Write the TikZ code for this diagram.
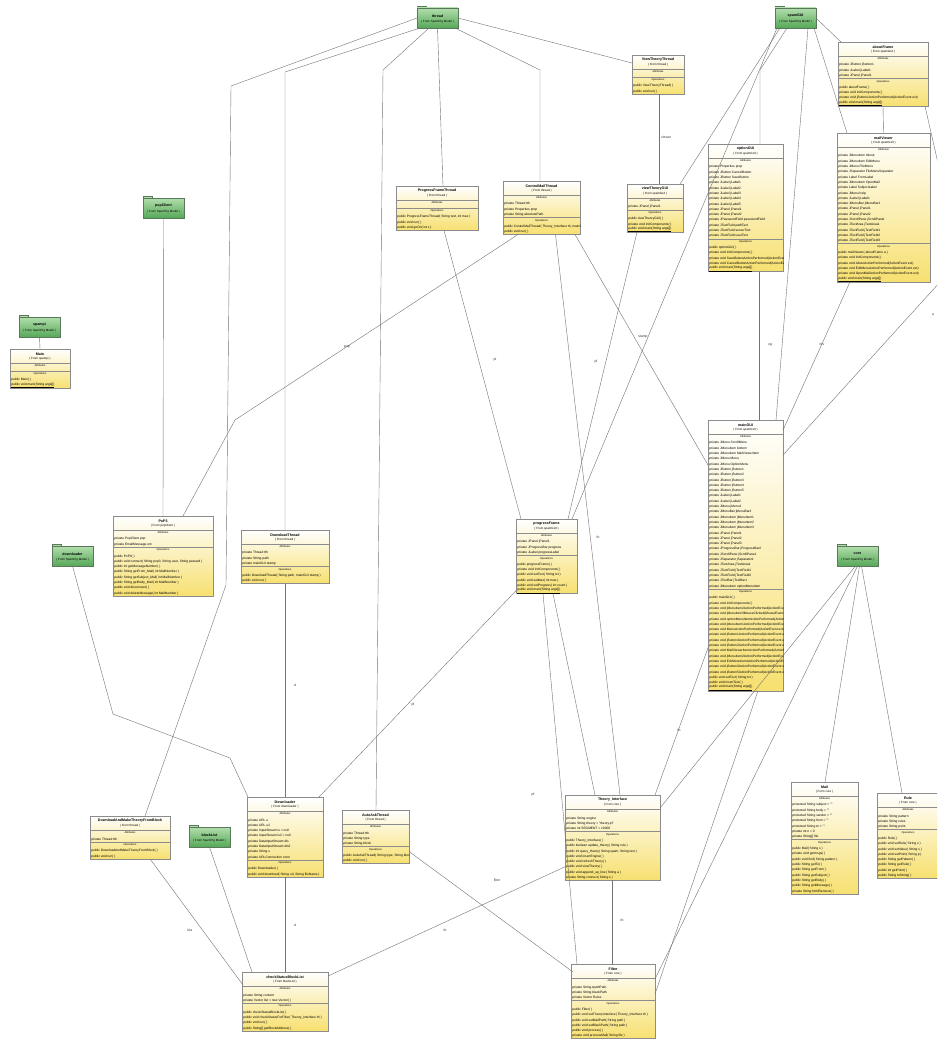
\documentclass[tikz,border=0pt]{standalone}
\usepackage{fontspec}
\setmainfont{Liberation Sans}
\usetikzlibrary{calc}
\definecolor{clsyel}{RGB}{247,224,112}
\definecolor{clsline}{RGB}{140,140,140}
\definecolor{pkgtop}{RGB}{178,222,172}
\definecolor{pkgbot}{RGB}{86,168,88}
\definecolor{pkgline}{RGB}{90,120,90}
\definecolor{conncol}{RGB}{115,115,115}
\tikzset{
  clsbox/.style={draw=clsline, line width=0.5pt, top color=white, bottom color=clsyel, inner sep=0pt, outer sep=0pt},
  clstitle/.style={font=\fontsize{3.6}{4}\selectfont\bfseries, inner sep=0pt},
  clsfrom/.style={font=\fontsize{3}{3.5}\selectfont, inner sep=0pt},
  clshdr/.style={font=\fontsize{2.6}{3}\selectfont, inner sep=0pt},
  clstxt/.style={anchor=west, font=\fontsize{3.25}{3.6}\selectfont, inner sep=0pt},
  clssep/.style={draw=clsline, line width=0.4pt},
  pkgbox/.style={draw=pkgline, line width=0.5pt, top color=pkgtop, bottom color=pkgbot, inner sep=0pt, outer sep=0pt},
  pkgname/.style={font=\fontsize{3.6}{4}\selectfont\bfseries, inner sep=0pt},
  pkgfrom/.style={font=\fontsize{3}{3.5}\selectfont, inner sep=0pt},
  conn/.style={draw=conncol, line width=0.4pt},
  lbl/.style={font=\fontsize{3.4}{4}\selectfont, inner sep=0pt, text=black!80}
}
\newcount\cntA \newcount\cntO
\newcommand\cls[8]{%
  \global\cntA=0 \global\cntO=0
  \if\relax\detokenize{#7}\relax\else\foreach \itm in {#7}{\global\advance\cntA by 1}\fi
  \foreach \itm in {#8}{\global\advance\cntO by 1}%
  \pgfmathsetmacro\hA{\the\cntA==0 ? 8 : 6.5+\the\cntA*5.3}%
  \pgfmathsetmacro\hO{6.5+\the\cntO*5.3}%
  \pgfmathsetmacro\yA{#3+14}%
  \pgfmathsetmacro\yO{\yA+\hA}%
  \pgfmathsetmacro\hT{14+\hA+\hO}%
  \node[clsbox, minimum width=#4pt, minimum height=\hT pt, anchor=north west] (#1) at (#2,#3) {};
  \begin{scope}
    \clip (#2,#3) rectangle ++(#4,\hT);
    \node[clstitle] at (#2+#4/2,#3+5) {#5};
    \node[clsfrom] at (#2+#4/2,#3+10) {( From #6 )};
    \draw[clssep] (#2,\yA) -- ++(#4,0);
    \node[clshdr] at (#2+#4/2,\yA+3) {Attributes};
    \if\relax\detokenize{#7}\relax\else
      \foreach \itm [count=\ii] in {#7}{\node[clstxt] at (#2+1.2,\yA+6.5+\ii*5.3-2.65) {\itm};}\fi
    \draw[clssep] (#2,\yO) -- ++(#4,0);
    \node[clshdr] at (#2+#4/2,\yO+3) {Operations};
    \foreach \itm [count=\ii] in {#8}{\node[clstxt] at (#2+1.2,\yO+6.5+\ii*5.3-2.65) {\itm};}
  \end{scope}
}
\newcommand\pkg[4]{%
  \draw[draw=pkgline, fill=pkgtop, line width=0.4pt] (#2,#3-2) rectangle ++(9,2);
  \node[pkgbox, anchor=north west, minimum width=41pt, minimum height=20pt] (#1) at (#2,#3) {};
  \node[pkgname] at (#2+20.5,#3+8) {#4};
  \node[pkgfrom] at (#2+20.5,#3+14) {( From SpamPig Model )};
}
\begin{document}
\begin{tikzpicture}[x=1pt,y=-1pt]
\useasboundingbox (0,0) rectangle (937,1041);
\fill[white] (0,0) rectangle (937,1041);
\clip (0,0) rectangle (937,1041);

% ---------- packages
\pkg{thread}{417}{8}{thread}
\pkg{spamGUI}{775}{8}{spamGUI}
\pkg{popClient}{143}{198}{popClient}
\pkg{spampi}{19}{317}{spampi}
\pkg{downloader}{52}{546}{downloader}
\pkg{core}{837}{546}{core}
\pkg{blackList}{189}{827}{blackList}

% ---------- classes
\cls{mainc}{10}{349}{60}{Main}{spampi}{}{{public Main( )},{\underline{public void main(String args[])}}}
\cls{vtt}{632}{55}{52}{ViewTheoryThread}{thread}{}{{public ViewTheoryThread( )},{public void run( )}}
\cls{about}{838}{42}{90}{aboutFrame}{spamGUI}{{private JButton jButton1},{private JLabel jLabel1},{private JPanel jPanel1}}{{public aboutFrame( )},{private void initComponents( )},{private void jButton1ActionPerformed(ActionEvent evt)},{\underline{public void main(String args[])}}}
\cls{mailv}{837}{133}{93}{mailViewer}{spamGUI}{{private JMenuItem About},{private JMenuItem EditMenu},{private JMenu FileMenu},{private JSeparator FileMenuSeparator},{private Label FromLabel},{private JMenuItem OpenMail},{private Label SubjectLabel},{private JMenu help},{private JLabel jLabel1},{private JMenuBar jMenuBar1},{private JPanel jPanel1},{private JPanel jPanel2},{private JScrollPane jScrollPanel},{private JTextArea jTextArea1},{private JTextField jTextField1},{private JTextField jTextField2},{private JTextField jTextField3}}{{public mailViewer( aboutFrame a )},{private void initComponents( )},{private void AboutActionPerformed(ActionEvent evt)},{private void EditMenuActionPerformed(ActionEvent evt)},{private void OpenMailActionPerformed(ActionEvent evt)},{\underline{public void main(String args[])}}}
\cls{optgui}{708}{144}{75}{optionGUI}{spamGUI}{{private Properties prop},{private JButton CancelButton},{private JButton SaveButton},{private JLabel jLabel1},{private JLabel jLabel2},{private JLabel jLabel3},{private JLabel jLabel4},{private JLabel jLabel5},{private JPanel jPanel1},{private JPanel jPanel2},{private JPasswordField passwordField},{private JTextField pathText},{private JTextField serverText},{private JTextField userText}}{{public optionGUI( )},{private void initComponents( )},{private void SaveButtonActionPerformed(ActionEvent evt)},{private void CancelButtonActionPerformed(ActionEvent evt)},{\underline{public void main(String args[])}}}
\cls{pft}{396}{186}{82}{ProgressFrameThread}{thread}{}{{public ProgressFrameThread( String text, int max )},{public void run( )},{public void goOn( int x )}}
\cls{cmt}{503}{181}{77}{ControlMailThread}{thread}{{private Thread tth},{private Properties prop},{private String absolutePath}}{{public ControlMailThread( Theory\_Interface th, mainGUI stamp )},{public void run( )}}
\cls{vtgui}{627}{184}{56}{viewTheoryGUI}{spamGUI}{{private JPanel jPanel1}}{{public viewTheoryGUI( )},{private void initComponents( )},{\underline{public void main(String args[])}}}
\cls{maingui}{708}{420}{75}{mainGUI}{spamGUI}{{private JMenu ScrollMenu},{private JMenuItem bottom},{private JMenuItem MailViewerItem},{private JMenu Menu},{private JMenu OptionMenu},{private JButton jButton1},{private JButton jButton2},{private JButton jButton3},{private JButton jButton4},{private JButton jButton5},{private JLabel jLabel1},{private JLabel jLabel2},{private JMenu jMenu1},{private JMenuBar jMenuBar2},{private JMenuItem jMenuItem1},{private JMenuItem jMenuItem2},{private JMenuItem jMenuItem3},{private JPanel jPanel1},{private JPanel jPanel2},{private JPanel jPanel3},{private JProgressBar jProgressBar2},{private JScrollPane jScrollPane1},{private JSeparator jSeparator1},{private JTextArea jTextArea1},{private JTextField jTextField1},{private JTextField jTextField2},{private JToolBar jToolBar1},{private JMenuItem optionMenuItem}}{{public mainGUI( )},{private void initComponents( )},{private void jMenuItem2ActionPerformed(ActionEvent evt)},{private void jMenuItem3MouseClicked(MouseEvent evt)},{private void optionMenuItemActionPerformed(ActionEvent evt)},{private void jMenuItem1ActionPerformed(ActionEvent evt)},{private void MenuActionPerformed(ActionEvent evt)},{private void jButton1ActionPerformed(ActionEvent evt)},{private void jButton4ActionPerformed(ActionEvent evt)},{private void jButton2ActionPerformed(ActionEvent evt)},{private void MailViewerItemActionPerformed(ActionEvent evt)},{private void jMenuItem2ActionPerformed(ActionEvent evt)},{private void ExitMenuItemActionPerformed(ActionEvent evt)},{private void jButton3ActionPerformed(ActionEvent evt)},{private void jButton5ActionPerformed(ActionEvent evt)},{public void setText( String txt )},{public void insertText( )},{\underline{public void main(String args[])}}}
\cls{pop3}{113}{516}{100}{PoP3}{popClient}{{private PopClient pop},{private EmailMessage em}}{{public PoP3( )},{public void connect( String pop3, String user, String passwd )},{public int getMessageNumber( )},{public String getFrom\_Mail( int MailNumber )},{public String getSubject\_Mail( int MailNumber )},{public String getBody\_Mail( int MailNumber )},{public void disconnect( )},{public void deleteMessage( int MailNumber )}}
\cls{dlthread}{241}{530}{88}{DownloadThread}{thread}{{private Thread tth},{private String path},{private mainGUI stamp}}{{public DownloadThread( String path, mainGUI stamp )},{public void run( )}}
\cls{pframe}{516}{519}{61}{progressFrame}{spamGUI}{{private JPanel jPanel1},{private JProgressBar progress},{private JLabel progressLabel}}{{public progressFrame( )},{private void initComponents( )},{public void setText( String txt )},{public void setMax( int max )},{public void setProgress( int count )},{\underline{public void main(String args[])}}}
\cls{dl}{247}{797}{76}{Downloader}{downloader}{{private URL u},{private URL u2},{private InputStream is = null},{private InputStream is2 = null},{private DataInputStream dis},{private DataInputStream dis2},{private String s},{private URLConnection conn}}{{public Downloader( )},{public void download( String url, String fileName )}}
\cls{autoask}{342}{810}{67}{AutoAskThread}{thread}{{private Thread tth},{private String type},{private String block}}{{public AutoAskThread( String type, String block )},{public void run( )}}
\cls{damtfb}{90}{816}{80}{DownloadAndMakeTheoryFromBlock}{thread}{{private Thread tth}}{{public DownloadAndMakeTheoryFromBlock( )},{public void run( )}}
\cls{ti}{565}{795}{95}{Theory\_Interface}{core}{{private String engine},{private String theory = "theory.pl"},{private int SEGMENT = 10000}}{{public Theory\_Interface( )},{public boolean update\_theory( String rule )},{public int query\_theory( String spam, String text )},{public void insertEngine( )},{public void refreshTheory( )},{public void viewTheory( )},{public void append\_up\_line( String a )},{private String connect( String s )}}
\cls{mail}{791}{782}{67}{Mail}{core}{{protected String subject = ""},{protected String body = ""},{protected String sender = ""},{protected String from = ""},{protected String to = ""},{private int n = 0},{private String[] file}}{{public Mail( String s )},{private void getmsgs( )},{public void find( String pattern )},{public String getTo( )},{public String getFrom( )},{public String getSubject( )},{public String getBody( )},{public String getMessage( )},{private String htmlRemove( )}}
\cls{rule}{877}{793}{62}{Rule}{core}{{private String pattern},{private String rules},{private String point}}{{public Rule( )},{public void setRule( String s )},{public void setValue( String s )},{public void setPoint( String p )},{public String getPattern( )},{public String getRule( )},{public int getPoint( )},{public String toString( )}}
\cls{csbl}{242}{972}{86}{checkStatusBlockList}{blackList}{{private String content},{private Vector list = new Vector( )}}{{public checkStatusBlockList( )},{public void checkStatusForFilter( Theory\_Interface th )},{public void run( )},{public String[] getBlockAddress( )}}
\cls{filter}{571}{964}{84}{Filter}{core}{{private String tpathPath},{private String blackPath},{private Vector Rules}}{{public Filter( )},{public void setTheoryInterface( Theory\_Interface th )},{public void setMailPath( String path )},{public void setBlackPath( String path )},{public void process( )},{private void processMail( String file )}}

% ---------- connectors: packages to classes
\draw[conn] (spampi.south) -- (mainc.north);
\draw[conn] (popClient.south) -- ($(pop3.north west)+(50,0)$);
\draw[conn] (thread.west) -- (231,86) -- (226,585) -- ($(damtfb.north west)+(55,0)$);
\draw[conn] ($(thread.south west)+(3,0)$) -- (285,72) -- ($(dlthread.north west)+(44,0)$);
\draw[conn] ($(thread.south west)+(12,0)$) -- (383,70) -- ($(autoask.north west)+(34,0)$);
\draw[conn] (thread.south) -- ($(pft.north west)+(47,0)$);
\draw[conn] ($(thread.south east)+(-3,0)$) -- (540,70) -- ($(cmt.north west)+(37,0)$);
\draw[conn] (thread.east) -- ($(vtt.north west)+(0,8)$);
\draw[conn] ($(spamGUI.north east)+(0,10)$) -- ($(about.north west)+(3,0)$);
\draw[conn] ($(spamGUI.south east)+(-2,0)$) -- ($(mailv.north west)+(10,0)$);
\draw[conn] ($(spamGUI.south west)+(12,0)$) -- (760,70) -- ($(optgui.north west)+(52,0)$);
\draw[conn] ($(spamGUI.south west)+(5,0)$) -- ($(vtgui.north east)+(-3,0)$);
\draw[conn] ($(spamGUI.south west)+(2,0)$) -- ($(pframe.north east)+(-5,0)$);
\draw[conn] ($(spamGUI.south east)+(-8,0)$) -- ($(maingui.north east)+(-7,0)$);
\draw[conn] (downloader.south) -- (113,714) -- (230,758) -- ($(dl.north west)+(1,0)$);
\draw[conn] (blackList.south) -- ($(csbl.north west)+(10,0)$);
\draw[conn] ($(core.south)+(-2,0)$) -- ($(ti.north east)+(0,13)$);
\draw[conn] ($(core.south)+(0,0)$) -- ($(filter.north east)+(0,15)$);
\draw[conn] ($(core.south)+(2,0)$) -- ($(mail.north west)+(34,0)$);
\draw[conn] ($(core.south)+(4,0)$) -- ($(rule.north west)+(25,0)$);

% ---------- associations
\draw[conn] ($(vtt.south west)+(27,0)$) -- node[lbl, pos=0.48, right=2pt] (lviewer) {viewer} ($(vtgui.north west)+(32,0)$);
\draw[conn] (about.south) -- ($(mailv.north west)+(46.5,0)$);
\draw[conn] ($(cmt.south west)+(15,0)$) -- (235,420) -- ($(pop3.north east)+(-30,0)$);
\node[lbl] (lpop) at (347,347) {pop};
\draw[conn] ($(pft.south west)+(48,0)$) -- ($(pframe.north west)+(5,0)$);
\node[lbl] (lpf1) at (495,360) {pf};
\draw[conn] ($(vtgui.south west)+(10,0)$) -- ($(pframe.north east)+(-9,0)$);
\node[lbl] (lpf2) at (596,362) {pf};
\draw[conn] ($(cmt.south east)+(-5,0)$) -- ($(maingui.north west)+(0,45)$);
\node[lbl] (lstamp) at (643,337) {stamp};
\draw[conn] ($(cmt.south)+(14,0)$) -- ($(ti.north west)+(55,0)$);
\node[lbl] (lth1) at (598,537) {th};
\draw[conn] ($(optgui.south west)+(51,0)$) -- ($(maingui.north west)+(51,0)$);
\node[lbl] (log) at (770,345) {og};
\draw[conn] ($(mailv.south west)+(13,0)$) -- ($(maingui.north east)+(0,10)$);
\node[lbl] (lmv) at (822,345) {mv};
\draw[conn] ($(about.south east)+(-3,0)$) -- (960,260) -- ($(maingui.north east)+(0,35)$);
\node[lbl] (la) at (933,315) {a};
\draw[conn] (dlthread.south) -- ($(dl.north west)+(38,0)$);
\node[lbl] (ld1) at (295,685) {d};
\draw[conn] ($(pframe.south west)+(0,-3)$) -- ($(dl.north east)+(-4,0)$);
\node[lbl] (lpf3) at (413,705) {pf};
\draw[conn] ($(pframe.south west)+(27,0)$) -- ($(filter.north west)+(6,0)$);
\node[lbl] (lpf4) at (533,795) {pf};
\draw[conn] ($(pframe.south west)+(37,0)$) -- ($(ti.north west)+(30,0)$);
\draw[conn] ($(maingui.south west)+(0,-43)$) -- ($(ti.north east)+(-5,0)$);
\node[lbl] (lth2) at (679,730) {th};
\draw[conn] ($(maingui.south west)+(50,0)$) -- ($(filter.north east)+(0,30)$);
\draw[conn] ($(autoask.south east)+(0,-12)$) -- ($(filter.north west)+(2,8)$);
\node[lbl] (lfilter) at (497,880) {filter};
\draw[conn] ($(ti.south west)+(1,-14)$) -- ($(csbl.north east)+(0,4)$);
\node[lbl] (lth3) at (445,930) {th};
\draw[conn] ($(ti.south west)+(47,0)$) -- ($(filter.north west)+(41,0)$);
\node[lbl] (lth4) at (622,920) {th};
\draw[conn] ($(damtfb.south west)+(60,0)$) -- ($(csbl.north west)+(1,13)$);
\node[lbl] (lbla) at (190,930) {bla};
\draw[conn] ($(dl.south west)+(38,0)$) -- ($(csbl.north west)+(43,0)$);
\node[lbl] (ld2) at (295,925) {d};
\end{tikzpicture}
\end{document}
